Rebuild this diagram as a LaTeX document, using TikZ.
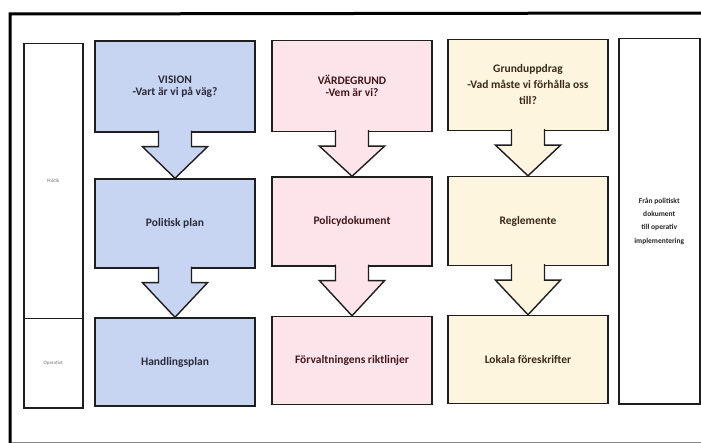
\documentclass[tikz,border=0pt]{standalone}
\usepackage{fontspec}
\setmainfont{Carlito}
\usetikzlibrary{calc}
\definecolor{bluefill}{HTML}{C7D5F2}
\definecolor{pinkfill}{HTML}{FDE4EB}
\definecolor{yellowfill}{HTML}{FDF5DD}
\definecolor{boxline}{HTML}{1E1E1E}
\definecolor{bluetext}{HTML}{2A2A3C}
\definecolor{pinktext}{HTML}{40181C}
\definecolor{yellowtext}{HTML}{3C2A14}
\tikzset{
  px/.style={x=1pt,y=-1pt},
  colbox/.style={draw=boxline, line width=1.4pt, minimum width=160pt, inner sep=0pt, align=center,
    font=\fontsize{11.5}{13}\selectfont\bfseries},
  topbox/.style={colbox, minimum height=91pt},
  midbox/.style={colbox, minimum height=89pt},
  lowbox/.style={colbox, minimum height=88pt},
  sidebox/.style={draw=boxline, line width=1.5pt, fill=white, inner sep=0pt, align=center},
  bluecol/.style={fill=bluefill, text=bluetext},
  pinkcol/.style={fill=pinkfill, text=pinktext},
  yellowcol/.style={fill=yellowfill, text=yellowtext},
  blockarrow/.style={draw=boxline, line width=1.4pt, line join=miter},
}
% block arrow from node #1 (above) to node #2 (below); #3 fill colour
\newcommand{\blockarr}[3]{%
  \filldraw[blockarrow, fill=#3]
    ($(#1.south)+(-16.5,-2)$) -- ($(#1.south)+(-16.5,14)$) -- ($(#1.south)+(-32.5,14)$)
    -- (#2.north) -- ($(#1.south)+(32.5,14)$) -- ($(#1.south)+(16.5,14)$)
    -- ($(#1.south)+(16.5,-2)$);%
}
\begin{document}
\begin{tikzpicture}[px]
\useasboundingbox (0,0) rectangle (701,443);
\fill[white] (0,0) rectangle (701,443);
% outer frame
\draw[black!45, line width=2pt] (10,442.5) -- (705,442.5);
\draw[black, line width=3pt] (705,13) -- (10,14) -- (10,446);

% left column
\node[sidebox, minimum width=59pt, minimum height=275pt, anchor=north west,
  font=\fontsize{5}{6}\selectfont, text=black!55] (pol) at (23,43) {Politik};
\node[sidebox, minimum width=59pt, minimum height=89pt, anchor=north west,
  font=\fontsize{5}{6}\selectfont, text=black!55] (ope) at (23,318) {Operativt};

% right column
\node[sidebox, minimum width=81pt, minimum height=365pt, anchor=north west,
  font=\fontsize{7.5}{13.3}\selectfont\bfseries, text=black!85] (fran) at (618,38)
  {Från politiskt\\dokument\\till operativ\\implementering};

% blue column
\node[topbox, bluecol] (vis) at (175,86.5) {VISION\\[-0.5pt]-Vart är vi på väg?};
\node[midbox, bluecol] (polplan) at (175,223.5) {Politisk plan};
\node[lowbox, bluecol] (hand) at (175,362) {Handlingsplan};

% pink column
\node[topbox, pinkcol] (vard) at (352,86) {VÄRDEGRUND\\[-0.5pt]-Vem är vi?};
\node[midbox, pinkcol] (polic) at (352,221.5) {Policydokument};
\node[lowbox, pinkcol] (forv) at (352,360.5) {Förvaltningens riktlinjer};

% yellow column
\node[topbox, yellowcol] (grund) at (528,85) {Grunduppdrag\\[3pt]-Vad måste vi förhålla oss\\[3pt]till?};
\node[midbox, yellowcol] (regl) at (528,221) {Reglemente};
\node[lowbox, yellowcol] (lok) at (528,359.5) {Lokala föreskrifter};

% block arrows
\blockarr{vis}{polplan}{bluefill}
\blockarr{polplan}{hand}{bluefill}
\blockarr{vard}{polic}{pinkfill}
\blockarr{polic}{forv}{pinkfill}
\blockarr{grund}{regl}{yellowfill}
\blockarr{regl}{lok}{yellowfill}
\end{tikzpicture}
\end{document}
